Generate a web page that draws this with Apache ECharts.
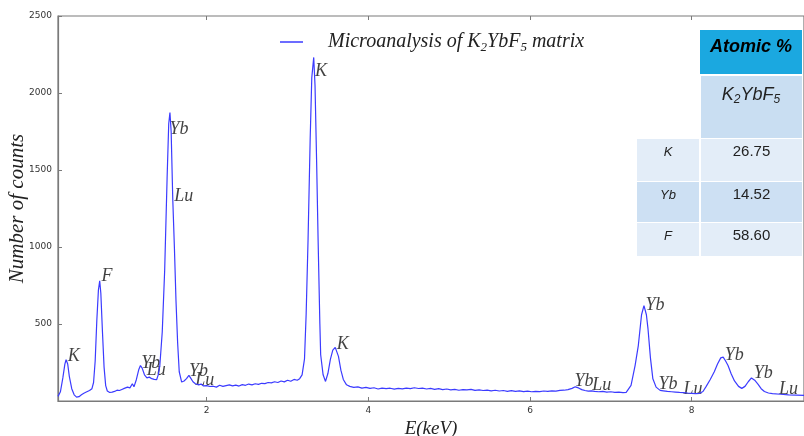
<!DOCTYPE html>
<html>
<head>
<meta charset="utf-8">
<script src="https://cdn.jsdelivr.net/npm/echarts@6/dist/echarts.min.js"></script>
<style>
  html, body { margin: 0; padding: 0; background: #fff; }
  #chart { width: 804px; height: 436px; }
</style>
</head>
<body>
<div id="chart"></div>
<script>
// spectrum: energy (keV) and counts
var energy = [
  0.16, 0.19, 0.22, 0.245, 0.26, 0.28, 0.30, 0.33, 0.36, 0.39, 0.42, 0.45, 0.48, 0.51, 0.55, 0.58,
  0.60, 0.62, 0.64, 0.66, 0.676, 0.69, 0.71, 0.73, 0.75, 0.77, 0.80, 0.83, 0.86, 0.89, 0.92, 0.95,
  0.98, 1.00, 1.02, 1.05, 1.08, 1.10, 1.13, 1.16, 1.18, 1.20, 1.23, 1.26, 1.29, 1.32, 1.35, 1.38,
  1.40, 1.42, 1.45, 1.48, 1.51, 1.53, 1.545, 1.56, 1.58, 1.60, 1.62, 1.64, 1.66, 1.69, 1.72, 1.75,
  1.78, 1.80, 1.83, 1.86, 1.90, 1.93, 1.96, 2.00, 2.04, 2.08, 2.12, 2.16, 2.20, 2.24, 2.28, 2.32,
  2.36, 2.40, 2.44, 2.48, 2.52, 2.56, 2.60, 2.64, 2.68, 2.72, 2.76, 2.80, 2.84, 2.88, 2.92, 2.96,
  3.00, 3.04, 3.08, 3.12, 3.15, 3.18, 3.21, 3.23, 3.254, 3.28, 3.30, 3.324, 3.34, 3.36, 3.378, 3.40,
  3.41, 3.44, 3.47, 3.50, 3.53, 3.56, 3.59, 3.61, 3.63, 3.66, 3.69, 3.73, 3.77, 3.82, 3.87, 3.92,
  3.97, 4.02, 4.07, 4.12, 4.17, 4.22, 4.27, 4.32, 4.37, 4.42, 4.47, 4.52, 4.57, 4.62, 4.67, 4.72,
  4.77, 4.82, 4.87, 4.92, 4.97, 5.02, 5.07, 5.12, 5.17, 5.22, 5.27, 5.32, 5.37, 5.42, 5.47, 5.52,
  5.57, 5.62, 5.67, 5.72, 5.77, 5.82, 5.87, 5.92, 5.97, 6.02, 6.07, 6.12, 6.17, 6.22, 6.27, 6.32,
  6.37, 6.42, 6.47, 6.52, 6.56, 6.60, 6.64, 6.68, 6.72, 6.76, 6.80, 6.85, 6.90, 6.95, 7.00, 7.05,
  7.10, 7.15, 7.19, 7.25, 7.30, 7.34, 7.38, 7.41, 7.44, 7.46, 7.49, 7.52, 7.56, 7.61, 7.65, 7.70,
  7.75, 7.80, 7.85, 7.90, 7.95, 8.00, 8.05, 8.10, 8.14, 8.18, 8.23, 8.28, 8.32, 8.36, 8.39, 8.42,
  8.45, 8.49, 8.53, 8.58, 8.62, 8.66, 8.70, 8.74, 8.78, 8.82, 8.86, 8.90, 8.95, 9.00, 9.10, 9.20,
  9.30, 9.39
];
var counts = [
  30, 60, 150, 240, 268, 240, 160, 80, 40, 25, 28, 40, 50, 58, 68, 80,
  120, 260, 520, 720, 780, 700, 450, 220, 100, 65, 55, 58, 62, 70, 68, 75,
  82, 78, 90, 85, 112, 92, 140, 205, 230, 215, 170, 150, 155, 145, 140, 138,
  170, 230, 450, 850, 1450, 1800, 1873, 1750, 1310, 1000, 650, 380, 190, 123, 130, 145,
  166, 150, 125, 112, 105, 110, 98, 100, 94, 96, 90, 102, 95, 100, 105, 98,
  103, 97, 106, 102, 110, 105, 112, 108, 115, 113, 120, 118, 125, 120, 130, 124,
  135, 128, 140, 135, 145, 170, 274, 560, 1050, 1700, 2100, 2231, 2050, 1550, 1050, 500,
  300, 170, 127, 180, 270, 330, 348, 340, 290, 200, 140, 105, 95, 88, 92, 84,
  88, 82, 86, 78, 84, 80, 83, 77, 82, 79, 84, 80, 86, 81, 84, 78,
  82, 76, 80, 74, 78, 72, 76, 70, 74, 72, 75, 69, 72, 68, 71, 66,
  70, 65, 68, 63, 67, 62, 66, 61, 64, 60, 63, 61, 65, 62, 66, 64,
  69, 70, 74, 82, 92, 85, 74, 68, 64, 66, 62, 60, 63, 58, 60, 56,
  58, 55, 56, 101, 230, 360, 560, 619, 560, 468, 280, 144, 90, 69, 66, 62,
  60, 58, 56, 55, 52, 50, 48, 50, 62, 95, 140, 190, 240, 280, 285, 260,
  230, 175, 130, 95, 82, 95, 125, 150, 135, 110, 80, 62, 52, 48, 44, 40,
  38, 36
];

// peak annotations: text, energy, counts (bottom-left corner of the text)
var peakText = ['K', 'F', 'Yb', 'Lu', 'Yb', 'Lu', 'Yb', 'Lu', 'K', 'K', 'Yb', 'Lu', 'Yb', 'Yb', 'Lu', 'Yb', 'Yb', 'Lu'];
var peakX = [0.28, 0.70, 1.19, 1.26, 1.54, 1.60, 1.78, 1.86, 3.34, 3.61, 6.55, 6.77, 7.43, 7.59, 7.90, 8.41, 8.77, 9.08];
var peakY = [235, 750, 190, 140, 1705, 1270, 132, 74, 2080, 312, 67, 42, 566, 48, 16, 236, 119, 16];

// inset table
var tableElements = ['K', 'Yb', 'F'];
var atomicPercent = ['26.75', '14.52', '58.60'];

var xTicks = [2, 4, 6, 8];

var serif = '"Liberation Serif", "DejaVu Serif", serif';
var sans = '"Liberation Sans", "DejaVu Sans", sans-serif';

var chart = echarts.init(document.getElementById('chart'), null, { renderer: 'canvas' });

var lineData = energy.map(function (e, i) { return [e, counts[i]]; });
var labelData = peakX.map(function (x, i) { return { value: [x, peakY[i]], name: peakText[i] }; });

function buildTable() {
  var els = [];
  var colL = 637, colLW = 62, colR = 701, colRW = 101;
  var rowTop = [139, 182, 223], rowH = [42, 40, 33];
  var rowFill = ['#e3edf8', '#cde0f3', '#e3edf8'];
  els.push({ type: 'rect', shape: { x: 700, y: 30, width: 102, height: 44 }, style: { fill: '#1ba8e0' } });
  els.push({
    type: 'text', x: 751, y: 47,
    style: { text: 'Atomic %', font: 'italic bold 18px ' + sans, fill: '#000', align: 'center', verticalAlign: 'middle' }
  });
  els.push({ type: 'rect', shape: { x: 701, y: 76, width: 101, height: 62 }, style: { fill: '#c9def2' } });
  els.push({
    type: 'text', x: 751, y: 95,
    style: {
      text: '{m|K}{s|2}{m|YbF}{s|5}', align: 'center', verticalAlign: 'middle',
      rich: {
        m: { font: 'italic 18px ' + sans, fill: '#222', lineHeight: 22 },
        s: { font: 'italic 12px ' + sans, fill: '#222', lineHeight: 12, verticalAlign: 'bottom' }
      }
    }
  });
  tableElements.forEach(function (el, i) {
    els.push({ type: 'rect', shape: { x: colL, y: rowTop[i], width: colLW, height: rowH[i] }, style: { fill: rowFill[i] } });
    els.push({ type: 'rect', shape: { x: colR, y: rowTop[i], width: colRW, height: rowH[i] }, style: { fill: rowFill[i] } });
    els.push({
      type: 'text', x: colL + colLW / 2, y: rowTop[i] + 13,
      style: { text: el, font: 'italic 13px ' + sans, fill: '#222', align: 'center', verticalAlign: 'middle' }
    });
    els.push({
      type: 'text', x: colR + colRW / 2, y: rowTop[i] + 13,
      style: { text: atomicPercent[i], font: '15px ' + sans, fill: '#222', align: 'center', verticalAlign: 'middle' }
    });
  });
  return els;
}

chart.setOption({
  animation: false,
  backgroundColor: '#fff',
  grid: {
    left: 58, right: 0, top: 16, bottom: 35,
    outerBoundsMode: 'none',
    show: true, borderColor: '#7a7a7a', borderWidth: 1.2
  },
  legend: {
    left: 275, top: 27,
    itemWidth: 23, itemHeight: 1.5,
    icon: 'rect',
    data: ['spectrum'],
    formatter: function () {
      return '{m|Microanalysis of K}{s|2}{m|YbF}{s|5}{m| matrix}';
    },
    textStyle: {
      padding: [0, 0, 0, 20],
      rich: {
        m: { fontFamily: serif, fontStyle: 'italic', fontSize: 20, color: '#222', lineHeight: 24 },
        s: { fontFamily: serif, fontStyle: 'italic', fontSize: 13, color: '#222', lineHeight: 13, verticalAlign: 'bottom' }
      }
    }
  },
  xAxis: [{
    type: 'value', min: 0.16, max: 9.39,
    name: 'E(keV)', nameLocation: 'middle', nameGap: 18, nameMoveOverlap: false,
    nameTextStyle: { fontFamily: serif, fontStyle: 'italic', fontSize: 19, color: '#222' },
    axisLine: { show: true, lineStyle: { color: '#7a7a7a', width: 1.2 } },
    axisTick: { show: true, inside: true, length: 4, customValues: xTicks, lineStyle: { color: '#7a7a7a' } },
    axisLabel: { customValues: xTicks, margin: 5, fontFamily: '"DejaVu Sans", sans-serif', fontSize: 9, color: '#333' },
    splitLine: { show: false }
  }, {
    type: 'value', min: 0.16, max: 9.39, position: 'top',
    axisLine: { show: false },
    axisTick: { show: true, inside: true, length: 4, customValues: xTicks, lineStyle: { color: '#7a7a7a' } },
    axisLabel: { show: false },
    splitLine: { show: false }
  }],
  yAxis: {
    type: 'value', min: 0, max: 2500, interval: 500,
    name: 'Number of counts', nameLocation: 'middle', nameGap: 30, nameRotate: 90, nameMoveOverlap: false,
    nameTextStyle: { fontFamily: serif, fontStyle: 'italic', fontSize: 21, color: '#222' },
    axisLine: { show: true, lineStyle: { color: '#7a7a7a', width: 1.2 } },
    axisTick: { show: true, inside: true, length: 4, lineStyle: { color: '#7a7a7a' } },
    axisLabel: {
      margin: 6, fontFamily: '"DejaVu Sans", sans-serif', fontSize: 9, color: '#333',
      formatter: function (v) { return v === 0 ? '' : String(v); }
    },
    splitLine: { show: false }
  },
  series: [{
    name: 'spectrum',
    type: 'line',
    data: lineData,
    showSymbol: false,
    symbol: 'none',
    silent: true,
    lineStyle: { color: '#3b3bff', width: 1.2 },
    itemStyle: { color: '#3b3bff' }
  }, {
    name: 'peaks',
    type: 'scatter',
    data: labelData,
    symbolSize: 0.1,
    silent: true,
    itemStyle: { color: 'transparent' },
    label: {
      show: true, position: 'insideBottomLeft', distance: 0,
      formatter: '{b}',
      fontFamily: serif, fontStyle: 'italic', fontSize: 18, color: '#111'
    }
  }],
  graphic: buildTable()
});
</script>
</body>
</html>
